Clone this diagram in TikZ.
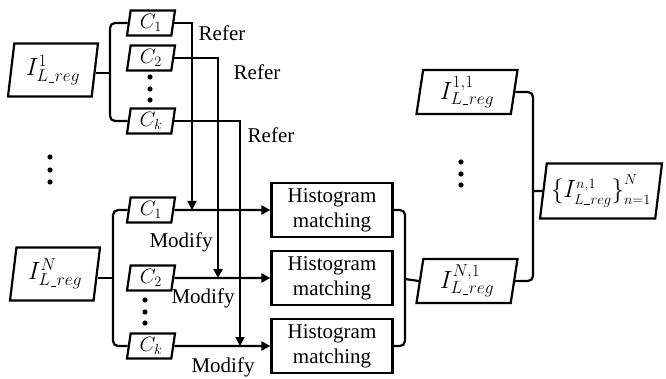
\documentclass[tikz,border=0pt]{standalone}
\usepackage{fontspec}
\setmainfont{Liberation Serif}
\DeclareMathSizes{25}{25}{16}{12}
\DeclareMathSizes{23}{23}{15}{11}
\DeclareMathSizes{22}{22}{14}{10}
\newcommand\us{\kern0.6pt\rule[-1pt]{5.5pt}{0.9pt}\kern0.6pt}
\usetikzlibrary{shapes.geometric,arrows.meta}
\begin{document}
\begin{tikzpicture}[x=1pt,y=-1pt,line width=2.2pt,
  para/.style={draw, trapezium, trapezium left angle=78, trapezium right angle=102,
    trapezium stretches body, inner sep=0pt, font=\fontsize{25}{30}\selectfont},
  cbox/.style={para, minimum width=48pt, minimum height=25pt, font=\fontsize{22}{26}\selectfont},
  ibox/.style={para, minimum width=90pt, minimum height=53pt},
  obox/.style={para, minimum width=101pt, minimum height=44pt},
  hbox/.style={draw, rectangle, minimum width=121pt, minimum height=54pt, inner sep=0pt,
    align=center, font=\fontsize{21}{25}\selectfont},
  lbl/.style={font=\fontsize{21}{25}\selectfont, inner sep=0pt},
  arr/.style={-{Triangle[length=9pt,width=9pt]}},
  br/.style={rounded corners=5pt}]
\useasboundingbox (0,0) rectangle (666,379);

% left inputs
\node[ibox] (i1) at (53,70) {$I^{1}_{L\us reg}$};
\node[ibox] (iN) at (55,274) {$I^{N}_{L\us reg}$};

% top C boxes
\node[cbox] (a1) at (151,23) {$C_1$};
\node[cbox] (a2) at (151,58) {$C_2$};
\node[cbox] (ak) at (151,121) {$C_k$};
% bottom C boxes
\node[cbox] (b1) at (151,210) {$C_1$};
\node[cbox] (b2) at (151,278) {$C_2$};
\node[cbox] (bk) at (151,346) {$C_k$};

% histogram boxes
\node[hbox] (h1) at (332,210) {Histogram\\matching};
\node[hbox] (h2) at (332,278) {Histogram\\matching};
\node[hbox] (h3) at (332,346) {Histogram\\matching};

% outputs
\node[obox] (o1) at (467,92) {$I^{1,1}_{L\us reg}$};
\node[obox] (oN) at (467,281) {$I^{N,1}_{L\us reg}$};
\node[para, minimum width=122pt, minimum height=55pt, font=\fontsize{23}{28}\selectfont] (fin) at (601,191)
  {$\bigl\{I^{n,1}_{L\us reg}\bigr\}^{N}_{n=1}$};

% dots
\foreach \x/\y in {50/157,50/170,50/182,150/77,150/89,150/100,145/300,145/312,145/323,461/162,461/174,461/185}
  \fill (\x,\y) circle[radius=2.6pt];

% left brackets
\coordinate (j1) at (110,73);
\coordinate (jN) at (113,278);
\draw[br] (a1.west) -| (j1) |- (ak.west);
\draw (i1.east |- j1) -- (j1);
\draw[br] (b1.west) -| (jN) |- (bk.west);
\draw (iN.east |- jN) -- (jN);

% refer lines
\coordinate (r1) at (192,210);
\coordinate (r2) at (218,278);
\coordinate (r3) at (240,346);
\draw[arr] (a1.east) -| (r1);
\draw[arr] (a2.east) -| (r2);
\draw[arr] (ak.east) -| (r3);
\node[lbl] (t1) at (222,33) {Refer};
\node[lbl] (t2) at (257,72) {Refer};
\node[lbl] (t3) at (271,135) {Refer};

% modify arrows
\draw[arr] (b1.east) -- (h1.west);
\draw[arr] (b2.east) -- (h2.west);
\draw[arr] (bk.east) -- (h3.west);
\node[lbl] (m1) at (181,242) {Modify};
\node[lbl] (m2) at (203,298) {Modify};
\node[lbl] (m3) at (223,367) {Modify};

% right brackets
\coordinate (k1) at (405,279);
\draw[br] (h1.east) -| (k1) |- (h3.east);
\draw (k1) -- (oN.west);
\coordinate (k2) at (533,191);
\draw[br] (o1.east) -| (k2) |- (oN.east);
\draw (k2) -- (fin.west);
\end{tikzpicture}
\end{document}
